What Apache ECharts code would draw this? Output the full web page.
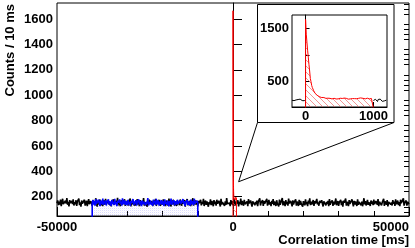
<!DOCTYPE html>
<html><head><meta charset="utf-8">
<script src="https://cdn.jsdelivr.net/npm/echarts@6/dist/echarts.min.js"></script>
<style>html,body{margin:0;padding:0;background:#fff}#c{width:415px;height:248px}</style>
</head><body><div id="c"></div>
<script>
// ---- data (counts per 10 ms bin) ----
const mainStart = -50000, mainStep = 200;
const blackMain = [
148,171,133,162,139,177,126,158,184,141,153,129,168,145,190,137,160,124,173,150,135,166,143,179,131,
157,140,172,128,163,149,186,134,155,121,170,146,161,138,176,130,152,168,125,159,181,142,136,165,149,
127,174,144,160,133,188,151,122,167,139,158,178,130,147,163,126,171,155,137,184,143,129,162,150,175,
134,157,123,169,145,180,138,153,128,166,141,192,132,160,147,125,172,154,136,163,148,179,127,158,140,
170,131,156,143,185,124,161,149,176,135,152,129,167,144,181,137,159,126,173,150,133,164,146,189,130,
155,142,168,121,160,138,177,147,132,165,153,126,171,140,158,183,129,149,163,136,174,145,128,161,151,
137,180,134,157,125,170,148,162,131,186,143,155,124,168,139,176,152,130,164,146,127,172,141,159,133,
178,150,128,166,144,135,173,122,158,147,182,132,161,138,169,126,154,145,187,129,163,140,171,136,156,
124,167,149,138,175,131,160,143,184,127,152,170,135,163,148,121,158,141,179,133,166,150,125,173,142,
161,130,176,145,134,168,155,123,183,139,157,147,172,128,164,136,190,144,131,159,151,126,174,140,165,
132,153,180,127,162,146,137,171,124,159,143,185,134,167,150,129,176,141,155,138,163,125,181,147,135,
170,144,122,164,152,178,133,158,140,169,126,161,148,187,131,154,139,173,128,166,145,136,160,184,130,
149,175,138,157,125,168,143,181,134,163,151,127,172,146,159,123,177,137,155,142,189,132,164,148,126,
173,140,160,129,185,147,135,166,153,124,171,139,158,144,180,130,162,150,127,176,136,167,143,155,121,
165,148,132,179,141,157,126,170,145,188,133,161,138,152,174,128,165,146,134,183,140,156,129,168,151,
137,172,144,123,163,150,178,131,159,142,167,125,182,136,154,147,171,127,162,139,157,186,133,148,166,
128,155,141,176,134,164,122,169,152,139,185,130,160,145,126,173,143,158,135,179,149,124,167,138,162,
150,127,180,137,158,146,172,133,161,125,154,188,140,166,131,149,175,136,157,143,128,170,145,163,134,
177,142,129,165,153,138,182,126,160,147,171,132,156,141,184,128,164,150,137,174,123,159,146,168,139,
155,131,173,144,162,127,179,140,151,169,134,158,125,176,148,163,136,187,130,153,145,170,129,161,142,
150];
const blueStart = -40000, blueEnd = -10000;
const blueMain = [
152,174,138,166,129,181,145,160,133,177,149,126,170,156,141,186,135,163,147,172,131,158,143,179,137,
165,150,128,175,144,161,134,183,140,157,125,169,153,138,178,146,162,130,187,142,155,171,136,164,148,
132,176,143,159,127,168,151,139,182,135,163,147,173,129,157,144,180,137,166,150,126,171,141,160,154,
175,133,162,146,189,131,158,142,170,136,153,128,177,148,165,134,183,140,156,172,130,161,145,174,138,
167,149,127,179,143,159,135,171,152,124,168,141,185,137,155,147,173,132,163,150,139,176,144,158,131,
170,146,160,134,181,142,165,128,157,150,174,136,162,145,129,178,140,166,153,133,184,147,159,137,169,
151];
const binWidth = 10;
const redStart = 0, redEnd = 1000;
const redPeak = [
1665,1390,1240,1090,960,820,700,560,500,430,390,360,330,300,282,270,255,246,236,228,222,215,212,205,208,200,197,203,192,196,188,
186,179,191,183,175,188,181,194,177,185,172,189,180,184,176,192,182,178,187,174,190,183,179,186,181,
177,193,184,175,188,180,185,173,191,182,178,187,176,184,189,179,183,174,192,181,186,177,188,180,185,
196,182,178,190,175,184,187,179,183,176,191,181,185,178,188,174,186,182,180];
const insetLeftStart = -200;
const insetBlackLeft = [152,138,164,145,171,133,158,149,126,166,140,155,173,136,160,147,130,168,143,157];
const insetRightStart = 1000;
const insetBlackRight = [148,163,135,170,142,156,129,167,151,138,174,144,159,132,165,147,140,172,136,154];
const mainYLabels = [200,400,600,800,1000,1200,1400,1600];
const insetYLabels = [500,1500];
const insetYTicks = [500,1000,1500];
const insetXLabels = [0,1000];

// ---- patterns ----
function hatch(){const c=document.createElement('canvas');c.width=6;c.height=6;const g=c.getContext('2d');
 g.strokeStyle='rgba(235,90,90,0.65)';g.lineWidth=1;g.beginPath();g.moveTo(-1,-1);g.lineTo(7,7);g.moveTo(-1,5);g.lineTo(1,7);g.moveTo(5,-1);g.lineTo(7,1);g.stroke();return c;}
function dots(){const c=document.createElement('canvas');c.width=2;c.height=2;const g=c.getContext('2d');
 g.fillStyle='rgba(130,130,255,0.28)';g.fillRect(0,0,1,1);g.fillStyle='rgba(180,180,255,0.12)';g.fillRect(1,1,1,1);return c;}

const F = "'Liberation Sans', Arial, sans-serif";
const plain = v => String(v);
const lbl = {fontFamily:F,fontWeight:'bold',fontSize:13,color:'#000',formatter:plain};

const toXY=(arr,start,step)=>arr.map((v,i)=>[start+i*step,v]);
const blueData=[[blueStart,0]].concat(toXY(blueMain,blueStart,mainStep),[[blueEnd,0]]);
const redData=[[redStart,0]].concat(toXY(redPeak,redStart,binWidth),[[redEnd,0]]);

const chart = echarts.init(document.getElementById('c'),null,{renderer:'canvas'});
const minorY=[];for(let v=80;v<=1720;v+=40){if(v%200)minorY.push(v);}
const option = {
 animation:false,
 grid:[
  {left:57,top:3,right:6,bottom:32,show:true,borderColor:'#000',borderWidth:1,backgroundColor:'transparent',containLabel:false},
  {left:292,top:15,right:28,bottom:141,show:true,borderColor:'#000',borderWidth:1,backgroundColor:'#fff',z:3}
 ],
 xAxis:[
  {gridIndex:0,type:'value',min:-50000,max:50000,interval:50000,
   axisLine:{lineStyle:{color:'#000'}},axisTick:{inside:true,length:9,lineStyle:{color:'#000'}},
   minorTick:{show:true,splitNumber:5,length:5,lineStyle:{color:'#000'}},
   splitLine:{show:false},axisLabel:Object.assign({margin:5,alignMaxLabel:'right'},lbl)},
  {gridIndex:1,type:'value',min:-200,max:1200,
   axisLine:{lineStyle:{color:'#000'}},axisTick:{inside:true,length:5,customValues:insetXLabels,lineStyle:{color:'#000'}},
   splitLine:{show:false},axisLabel:Object.assign({margin:3,customValues:insetXLabels},lbl),z:4}
 ],
 yAxis:[
  {gridIndex:0,type:'value',min:48,max:1726,
   axisLine:{show:true,lineStyle:{color:'#000'}},axisTick:{show:true,inside:true,length:9,customValues:mainYLabels,lineStyle:{color:'#000'}},
   splitLine:{show:false},axisLabel:Object.assign({margin:4,customValues:mainYLabels},lbl)},
  {gridIndex:0,type:'value',min:48,max:1726,
   axisLine:{show:false},axisTick:{show:true,inside:true,length:5,customValues:minorY,lineStyle:{color:'#000'}},
   splitLine:{show:false},axisLabel:{show:false}},
  {gridIndex:1,type:'value',min:26,max:1749,
   axisLine:{show:true,lineStyle:{color:'#000'}},axisTick:{show:true,inside:true,length:4,customValues:insetYTicks,lineStyle:{color:'#000'}},
   splitLine:{show:false},axisLabel:Object.assign({margin:3,customValues:insetYLabels},lbl),z:4}
 ],
 series:[
  {type:'line',xAxisIndex:0,yAxisIndex:0,data:toXY(blackMain,mainStart,mainStep),symbol:'none',
   lineStyle:{color:'#000',width:1.6},z:2,silent:true},
  {type:'line',xAxisIndex:0,yAxisIndex:0,data:blueData,symbol:'none',
   lineStyle:{color:'#0000ff',width:1.6},areaStyle:{color:{image:dots(),repeat:'repeat'},opacity:1,origin:'start'},z:3,silent:true},
  {type:'line',xAxisIndex:0,yAxisIndex:0,data:redData,symbol:'none',
   lineStyle:{color:'#ff0000',width:1},areaStyle:{color:{image:hatch(),repeat:'repeat'},opacity:1,origin:'start'},z:3,silent:true},
  {type:'line',xAxisIndex:1,yAxisIndex:2,data:toXY(insetBlackLeft,insetLeftStart,binWidth),symbol:'none',
   lineStyle:{color:'#000',width:1},z:5,silent:true},
  {type:'line',xAxisIndex:1,yAxisIndex:2,data:toXY(insetBlackRight,insetRightStart,binWidth),symbol:'none',
   lineStyle:{color:'#000',width:1},z:5,silent:true},
  {type:'line',xAxisIndex:1,yAxisIndex:2,data:redData,symbol:'none',
   lineStyle:{color:'#ff0000',width:1},areaStyle:{color:{image:hatch(),repeat:'repeat'},opacity:1,origin:'start'},z:6,silent:true}
 ]
};
chart.setOption(option);
const v = chart.convertToPixel({gridIndex:0},[1600,318]);
chart.setOption({graphic:[
 {type:'rect',z:-1,shape:{x:257.5,y:4.5,width:136.5,height:118},style:{fill:'#fff',stroke:'#000',lineWidth:1}},
 {type:'polyline',z:10,shape:{points:[[257.5,122.5],v,[394,122.5]]},style:{fill:null,stroke:'#000',lineWidth:1}},
 {type:'text',z:10,x:10,y:4,rotation:Math.PI/2,style:{text:'Counts / 10 ms',font:"bold 13px "+F,fill:'#000',align:'right',verticalAlign:'middle'}},
 {type:'text',z:10,x:409,y:240,style:{text:'Correlation time [ms]',font:"bold 13px "+F,fill:'#000',align:'right',verticalAlign:'middle'}}
]});
</script></body></html>
